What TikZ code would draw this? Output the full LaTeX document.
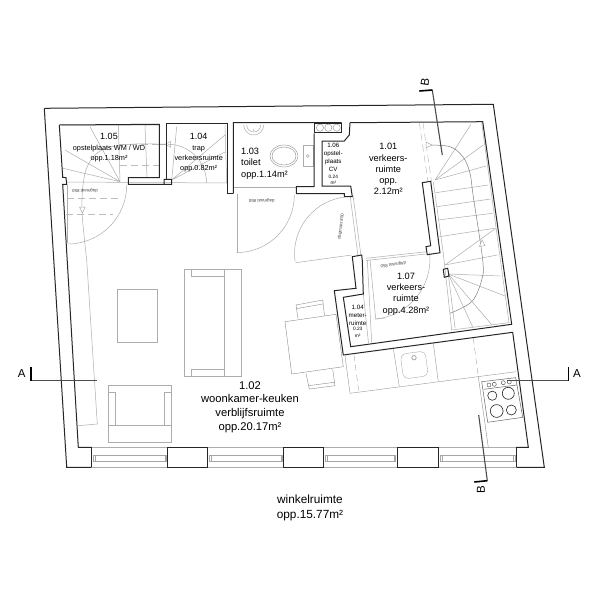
\documentclass[tikz,border=0pt]{standalone}
\usepackage{fontspec}
\setmainfont{Liberation Sans}
\begin{document}
\begin{tikzpicture}[x=1pt,y=-1pt,
  wall/.style={draw=black!85,line width=1pt,line join=miter},
  pier/.style={wall,fill=white},
  fit/.style={draw=black!32,line width=0.5pt},
  thinfit/.style={draw=black!35,line width=0.35pt},
  guide/.style={draw=black!26,line width=0.5pt,dash pattern=on 7pt off 4pt},
  section/.style={draw=black!70,line width=1.1pt},
  tick/.style={draw=black,line width=1.6pt},
  roomlarge/.style={align=center,inner sep=0pt,font=\fontsize{11.2}{13.6}\selectfont},
  roomlower/.style={align=center,inner sep=0pt,font=\fontsize{11.8}{14.6}\selectfont},
  room/.style={align=center,inner sep=0pt,font=\fontsize{9.2}{11.2}\selectfont},
  roomsmall/.style={align=center,inner sep=0pt,font=\fontsize{7.3}{10}\selectfont},
  roomtiny/.style={align=center,inner sep=0pt,font=\fontsize{6.2}{8}\selectfont},
  tinyline/.style={inner sep=0pt,font=\fontsize{4.8}{5.5}\selectfont},
  doormark/.style={inner sep=0pt,font=\fontsize{4.4}{5}\selectfont,text=black!75},
  secmark/.style={inner sep=0pt,font=\fontsize{11.5}{12}\selectfont}]
  \useasboundingbox (0,0) rectangle (600,600);
  \fill[white] (0,0) rectangle (600,600);

  \foreach \xa/\xb in {91.7/167.7,207.7/283.7,323.7/397,438.7/516.3}{
    \draw[fit] (\xa,447.3) -- (\xb,447.3) (\xa,467.3) -- (\xb,467.3);
    \draw[thinfit] (\xa+1.5,455) rectangle (\xb-1.5,461);
    \draw[thinfit] (\xa+3,455) -- (\xa+3,461) (\xb-3,455) -- (\xb-3,461);
  }

  \draw[fit] (67,182) -- (226.7,183);
  \draw[fit] (233,187) -- (297,187);
  \draw[fit] (237,194) -- (237,253);
  \draw[fit] (294.3,195) arc[start angle=0,end angle=90,radius=57.6];
  \draw[fit] (67.7,185) -- (67.7,243);
  \draw[fit] (126.7,185) arc[start angle=0,end angle=90,radius=59];
  \draw[fit] (345,197) arc[start angle=263.4,end angle=172.2,radius=57];
  \draw[fit] (295.7,262.7) -- (351.7,255);
  \draw[fit] (350,195) -- (358,256) (353,195) -- (361,256);
  \draw[fit] (366,258.3) -- (426.7,251.7) (366,260.5) -- (426.7,253.9);
  \draw[fit] (367.3,260) -- (371.7,342.7) (363.3,294) -- (368.5,343);
  \draw[fit] (370,259.3) -- (375.7,319) -- (385,318);
  \draw[fit] (375.7,319) arc[start angle=84.5,end angle=-6.4,radius=60];

  \draw[fit] (62,125) -- (159,125) (118.3,125) -- (120,181.7) (145,125) -- (147,178);
  \draw[guide] (119,144.3) -- (159,144.3) (119.5,165) -- (159,165);
  \draw[fit] (120,181.7) -- (90,126.7) (120,181.7) -- (65,150) (120,181.7) -- (61.7,168);
  \draw[guide] (67,198.3) -- (118,198.3) (66,214) -- (113,214);
  \draw[fit] (159,144.3) -- (168,144.3);
  \draw[fit] plot[smooth,tension=0.6] coordinates {(168,144.3) (130,144.3) (102,150) (88,165) (83,185) (82,210) (84,235) (86.7,260)};
  \draw[fit,fill=white] (170.7,141.5) -- (170.7,147.2) -- (165,144.3) -- cycle;
  \draw[fit,fill=white] (79.5,207) -- (85.2,207) -- (82.5,213) -- cycle;
  \draw[fit] (86.7,260) -- (97.3,424) -- (78.3,425.7);

  \draw[fit] (225,125) -- (226.7,183) (171.7,180) -- (176.7,126.7) (171.7,180) -- (225,135) (171.7,180) -- (225,152);
  \draw[fit] (168,144.3) arc[start angle=-90,end angle=0,radius=38.5];

  \draw[fit] (433.3,181.7) -- (443.3,253.3) -- (451.7,330);
  \draw[guide] (419.3,122.7) -- (428,181.7) (423,122.7) -- (431.5,181.7);
  \draw[fit] (481.7,122.7) -- (509,322.7) -- (451.7,330);
  \foreach \xb/\yb in {471/124.3,483.3/145,486/166}
    \draw[fit] (435,180) -- (\xb,\yb);
  \foreach \ya/\xc/\yc in {192.7/488.3/185,206.7/490.7/199,220/492.7/213.3,236.7/494.3/228.3}
    \draw[fit] (435+\ya/12-15.4,\ya) -- (\xc,\yc);
  \draw[fit] (445,265) -- (495.7,228.3) (445,265) -- (497.3,255);
  \foreach \xb/\yb in {500/276,505/296,492/325,472.7/327,455/328}
    \draw[fit] (448.3,274) -- (\xb,\yb);
  \draw[black!50,line width=0.5pt] plot[smooth,tension=0.55] coordinates {(426.7,145) (450,146.7) (463.3,157.3) (470,173.3) (473.3,196.7) (482.7,260) (481.7,280) (471.7,301.7) (450,313.3)};
  \draw[fit,fill=white] (426,142) -- (426,147.8) -- (432,145) -- cycle (479.5,246.5) -- (485,245.5) -- (482,240) -- cycle;

  \draw[fit] (243.7,125) arc[start angle=180,end angle=0,radius=10];
  \draw[fit] (246.7,125) arc[start angle=180,end angle=0,radius=7];
  \fill[black!50] (253.7,130) circle[radius=0.6];
  \draw[thinfit,draw=black!50] (284,156) ellipse[x radius=14,y radius=11] (284,156) ellipse[x radius=12,y radius=9];
  \draw[fit] (303.3,145) rectangle (313.3,166.7);
  \draw[fit] (307.7,156) circle[radius=1.5];
  \draw[wall] (314,123) rectangle (341.7,132.5);
  \foreach \xb in {320,328.3,336.7}
    \draw[thinfit,draw=black!50] (\xb,127.7) circle[radius=3.6];

  \draw[fit] (117.3,289.3) rectangle (157.3,342.3);
  \draw[fit] (184.3,269.3) rectangle (241.3,376);
  \draw[fit] (224.3,269.3) -- (224.3,376);
  \draw[fit] (191,269.3) -- (191,276) -- (224.3,276) (191,376) -- (191,369.3) -- (224.3,369.3);
  \draw[fit] (108.3,385.7) rectangle (171.7,442.3);
  \draw[fit] (108.3,425.7) -- (171.7,425.7);
  \draw[fit] (108.3,392.3) -- (115.7,392.3) -- (115.7,425.7) (171.7,392.3) -- (164.3,392.3) -- (164.3,425.7);

  \draw[thinfit,draw=black!50] (285,321.7) -- (336,314.3) -- (343.3,366.7) -- (291.7,374) -- cycle;
  \draw[thinfit,draw=black!50] (298,318.7) -- (296,305) -- (322.7,300) -- (324.5,315.5) (296.8,308.5) -- (323,304);
  \draw[thinfit,draw=black!50] (306,373.3) -- (309.3,389) -- (335,385.7) -- (332.7,369.3) (308.3,385.7) -- (334.3,382.3);

  \draw[thinfit,draw=black!45] (345,356) -- (350,393.3) -- (516,371.7);
  \draw[thinfit,draw=black!40,dash pattern=on 6pt off 4pt] (354,355) -- (359,393.3) (473.3,338.3) -- (478.3,376.7);
  \draw[thinfit,draw=black!45] (393.3,348.3) -- (399.3,386.7) (433.3,343.3) -- (438.3,381.7);
  \node[draw=black!35,line width=0.35pt,rounded corners=5pt,minimum size=25pt,inner sep=0pt,rotate=7.5] (sink) at (414.3,365) {};
  \draw[black!35,line width=0.8pt] (414,357.7) circle[radius=2.2];
  \draw[thinfit,draw=black!50] (478.3,376.7) -- (488.3,447.3);
  \draw[black!60,line width=0.5pt] (481.7,381.7) -- (515.7,377.7) -- (522.7,417.3) -- (487.7,422.3) -- cycle (484,389.3) -- (516.7,385);
  \foreach \xb/\yb in {489/385,494.3/384.3,503.3/382.7,509.3/382}
    \draw[black!70,line width=0.45pt] (\xb,\yb) circle[radius=2];
  \foreach \xb/\yb/\rb in {492.3/395.7/4.6,508.3/393.3/6,496.7/411/6.4,511.3/410/5}
    \draw[black!85,line width=0.6pt] (\xb,\yb) circle[radius=\rb];

  \draw[wall] (233.3,193.7) -- (233.3,122.7) -- (341.7,122.7) (350,122.7) -- (482.7,121.7) -- (511.7,324.3) -- (350.7,346.7) -- (343.3,297.3) -- (363.3,294) -- (362.3,260.7) -- (361.7,255) -- (352.3,256.7) -- (356,288.3) -- (334.3,290.7) -- (343.3,355) -- (512.7,332.3) -- (528.3,447.3) -- (516.3,447.3);
  \draw[wall] (350,122.7) -- (349.3,135) -- (344.3,141) -- (322,141) -- (322,186) -- (350.7,186) -- (352.3,196.7) -- (344.3,196.7) -- (344.3,193.7) -- (296.3,193.7) -- (296.3,186.7) -- (314,186.7) -- (314,133.3);
  \draw[wall] (59.3,125) -- (159.3,124.3) -- (159.3,177.7) -- (128.3,177.7) -- (128.3,184.3) -- (171.7,184.3) -- (171.7,179.3) -- (164,179.3) -- (164,184.3);
  \draw[wall] (171.7,179.3) -- (166.7,179.3) -- (166.7,123.3) -- (227.3,123.3) -- (227.3,193.3) -- (233.3,193.3);
  \draw[wall] (59.3,125) -- (62.7,177.3) -- (66,177.7) -- (66.7,184.3) -- (62.7,184.3) -- (78.3,447.3) -- (91.7,447.3);
  \draw[wall] (44.3,108.3) -- (493.3,104.3) -- (544.3,467.3) -- (516.3,467.3);
  \draw[wall] (44.3,108.3) -- (66.7,467.3) -- (91.7,467.3);
  \draw[wall] (422.3,182.7) -- (430.7,181.3) -- (440,252.7) -- (427.3,254.7) -- (426,246.7) -- (430.7,245.7) -- cycle;
  \draw[wall] (443.3,269.3) -- (447.7,268.3) -- (449,276) -- (444.3,277.3) -- cycle;
  \draw[wall] (91.7,447.3) -- (91.7,467.3);
  \foreach \xa/\xb in {167.7/207.7,283.7/323.7,397/438.7}
    \draw[pier] (\xa,447.3) rectangle (\xb,467.3);
  \draw[wall] (516.3,447.3) -- (516.3,467.3);

  \node[roomsmall] (opstelb) at (109,147.5) {\fontsize{9}{10}\selectfont 1.05\\[1pt]opstelplaats WM / WD\\opp.1.18m²};
  \node[roomsmall] (trap) at (198.7,152.3) {\fontsize{9}{10}\selectfont 1.04\\[1pt]trap\\verkeersruimte\\opp.0.82m²};
  \node[room,align=left,anchor=north west] (toilet) at (241,148) {1.03\\toilet\\opp.1.14m²};
  \node[room] (verkeers) at (388.3,169) {1.01\\verkeers-\\ruimte\\opp.\\2.12m²};
  \node[roomtiny] (opstelc) at (333.3,157.5) {1.06\\opstel-\\plaats\\CV};
  \node[tinyline] (opstelcv) at (333.3,176.7) {0.24};
  \node[tinyline] (opstelcm) at (333.3,183.3) {m²};
  \node[room] (gang) at (406,294) {1.07\\verkeers-\\ruimte\\opp.4.28m²};
  \node[roomtiny] (meter) at (357.7,315) {1.04\\meter-\\ruimte};
  \node[tinyline] (meterv) at (357.7,329.3) {0.23};
  \node[tinyline] (meterm) at (357.7,336.3) {m²};
  \node[roomlarge] (woon) at (250,407) {1.02\\woonkamer-keuken\\verblijfsruimte\\opp.20.17m²};
  \node[roomlower] (winkel) at (310,508) {winkelruimte\\opp.15.77m²};
  \node[doormark,rotate=180] (maata) at (85,190.7) {dagmaat 850};
  \node[doormark,rotate=180] (maatb) at (261.7,200.7) {dagmaat 850};
  \node[doormark,rotate=82] (maatc) at (341,226.7) {dagmaat 850};
  \node[doormark,rotate=187] (maatd) at (393.3,264.5) {dagmaat 850};

  \coordinate (Aleft) at (30.7,380.7);
  \coordinate (Aleftend) at (97.3,380.7);
  \coordinate (Aright) at (568.3,380.7);
  \coordinate (Arightend) at (506.7,380.7);
  \coordinate (Btop) at (432.3,90);
  \coordinate (Btopend) at (442.3,155);
  \coordinate (Bbot) at (487.3,480.7);
  \coordinate (Bbotend) at (478.7,415);
  \draw[section] (Aleft) -- (Aleftend);
  \draw[section] (Aright) -- (Arightend);
  \draw[section] (Btop) -- (Btopend);
  \draw[section] (Bbot) -- (Bbotend);
  \draw[tick] (Aleft) -- (30.7,367.3);
  \draw[tick] (Aright) -- (568.3,367.3);
  \draw[tick] (Btop) -- (419.3,91);
  \draw[tick] (Bbot) -- (474.3,482);
  \node[secmark] (Alabl) at (21.7,373.5) {A};
  \node[secmark] (Alabr) at (577,373.5) {A};
  \node[secmark,rotate=82] (Blabt) at (425,82.5) {B};
  \node[secmark,rotate=90] (Blabb) at (481,490) {B};
\end{tikzpicture}
\end{document}
